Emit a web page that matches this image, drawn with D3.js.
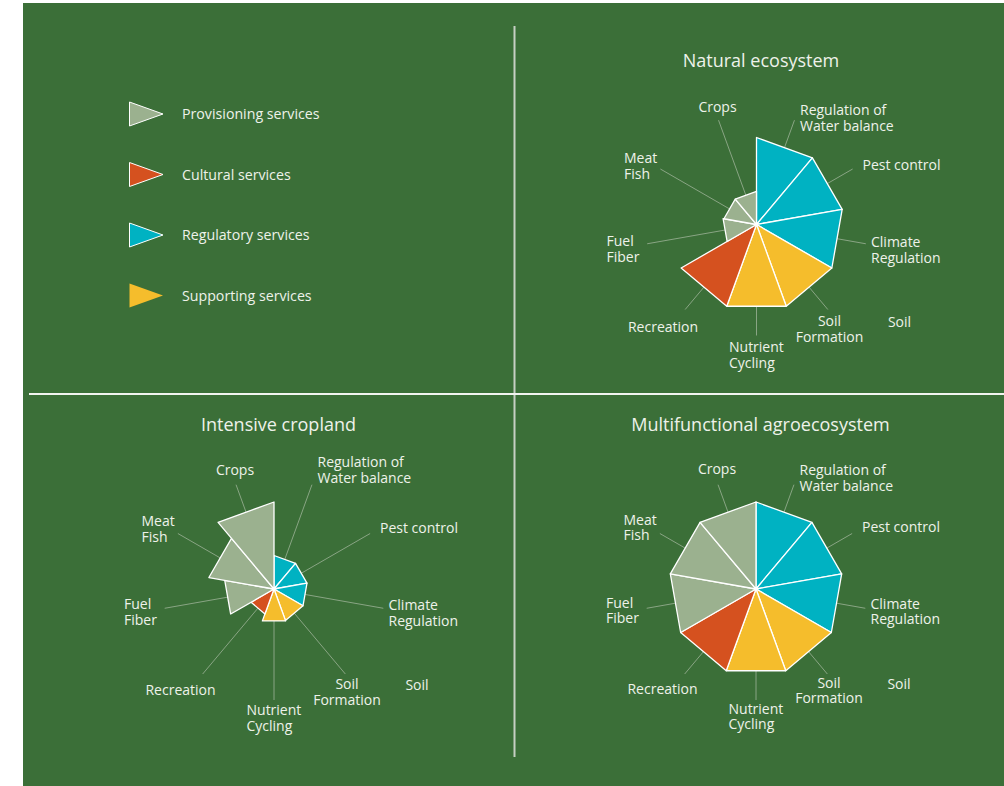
<!DOCTYPE html>
<html>
<head>
<meta charset="utf-8">
<script src="https://cdn.jsdelivr.net/npm/d3@7"></script>
<style>
  html, body { margin: 0; padding: 0; background: #ffffff; }
  svg { display: block; }
  text { font-family: "Open Sans", "Noto Sans", sans-serif; fill: #eef2ea; }
</style>
</head>
<body>
<svg id="chart" width="1004" height="786"></svg>
<script>
// ---------- data ----------
const categories = [
  "Regulation of\nWater balance", "Pest control", "Climate\nRegulation",
  "Soil\nFormation", "Nutrient\nCycling", "Recreation",
  "Fuel\nFiber", "Meat\nFish", "Crops"
];
const serviceOfCategory = [
  "Regulatory", "Regulatory", "Regulatory",
  "Supporting", "Supporting", "Cultural",
  "Provisioning", "Provisioning", "Provisioning"
];
const serviceNames = ["Provisioning", "Cultural", "Regulatory", "Supporting"];
const legendLabels = ["Provisioning services", "Cultural services", "Regulatory services", "Supporting services"];
const chartTitles = ["Natural ecosystem", "Intensive cropland", "Multifunctional agroecosystem"];
const naturalValues = [1.0, 1.0, 1.0, 1.0, 1.0, 1.0, 0.39, 0.38, 0.38];
const intensiveValues = [0.385, 0.385, 0.385, 0.385, 0.39, 0.305, 0.575, 0.76, 1.0];
const multifunctionalValues = [1.0, 1.0, 1.0, 1.0, 1.0, 1.0, 1.0, 1.0, 1.0];
const extraLabel = "Soil";

// ---------- style / layout ----------
const colors = d3.scaleOrdinal()
  .domain(serviceNames)
  .range(["#9bb18f", "#d5511f", "#00b2c2", "#f5bd2c"]);
const bg = "#3b6f38";
const R = 87;
const rScale = d3.scaleLinear().domain([0, 1]).range([0, R]);
const n = categories.length;
const step = 2 * Math.PI / n;

const svg = d3.select("#chart");
svg.append("rect").attr("x", 23).attr("y", 3).attr("width", 1004 - 23).attr("height", 786 - 3).attr("fill", bg);

// dividers
svg.append("line").attr("x1", 514.5).attr("x2", 514.5).attr("y1", 26).attr("y2", 757)
  .attr("stroke", "#c6cfc3").attr("stroke-width", 2);
svg.append("line").attr("x1", 29).attr("x2", 1004).attr("y1", 394).attr("y2", 394)
  .attr("stroke", "#f2f4f0").attr("stroke-width", 1.8);

// legend
const legendY = d3.scalePoint().domain(serviceNames).range([114, 295.5]);
const lg = svg.append("g");
serviceNames.forEach((s, i) => {
  const y = legendY(s);
  lg.append("path")
    .attr("d", `M129.5,${y - 12}L129.5,${y + 12}L163,${y}Z`)
    .attr("fill", colors(s))
    .attr("stroke", s === "Supporting" ? "none" : "#ffffff")
    .attr("stroke-width", 1);
  lg.append("text").attr("x", 182).attr("y", y + 5)
    .attr("font-size", 14.2).text(legendLabels[i]);
});

// label offsets relative to chart center: [dx, dy of first baseline, anchor]
const labelPos = [
  [43.5, -115, "start"],
  [106, -56, "start"],
  [114.5, 21, "start"],
  [73, 100, "middle"],
  [-27.5, 126, "start"],
  [-93.5, 106, "middle"],
  [-150, 20, "start"],
  [-132.5, -63, "start"],
  [-39, -114, "middle"]
];
const lineH = 15.5;

const charts = [
  { title: chartTitles[0], values: naturalValues, cx: 756.5, cy: 224.5, shift: 1.5, topRight: -109.5 },
  { title: chartTitles[1], values: intensiveValues, cx: 274, cy: 589, shift: 0, topRight: -122 },
  { title: chartTitles[2], values: multifunctionalValues, cx: 756, cy: 589, shift: -1.5, topRight: -114 }
];

const wedge = d3.lineRadial()
  .angle(d => d[0])
  .radius(d => d[1])
  .curve(d3.curveLinearClosed);

charts.forEach(c => {
  const g = svg.append("g").attr("transform", `translate(${c.cx},${c.cy})`);

  g.append("text").attr("x", 4.5).attr("y", -158)
    .attr("text-anchor", "middle").attr("font-size", 18).text(c.title);

  // leader lines
  c.values.forEach((v, i) => {
    const a = (i + 0.5) * step;
    const r0 = rScale(v) * Math.cos(step / 2);
    const r1 = 111;
    g.append("line")
      .attr("x1", r0 * Math.sin(a)).attr("y1", -r0 * Math.cos(a))
      .attr("x2", r1 * Math.sin(a)).attr("y2", -r1 * Math.cos(a))
      .attr("stroke", "#89a584").attr("stroke-width", 1);
  });

  // wedges
  c.values.forEach((v, i) => {
    const a0 = i * step, a1 = (i + 1) * step;
    g.append("path")
      .attr("d", wedge([[0, 0], [a0, rScale(v)], [a1, rScale(v)]]))
      .attr("fill", colors(serviceOfCategory[i]))
      .attr("stroke", "#ffffff").attr("stroke-width", 1.3)
      .attr("stroke-linejoin", "round");
  });

  // labels
  categories.forEach((name, i) => {
    const [dx, dy0, anchor] = labelPos[i];
    const dy = i === 0 ? c.topRight : dy0 + c.shift;
    name.split("\n").forEach((line, k) => {
      g.append("text").attr("text-anchor", anchor).attr("font-size", 14)
        .attr("x", dx).attr("y", dy + k * lineH).text(line);
    });
  });
  g.append("text").attr("x", 143).attr("y", 101 + c.shift).attr("text-anchor", "middle")
    .attr("font-size", 14).text(extraLabel);
});
</script>
</body>
</html>
